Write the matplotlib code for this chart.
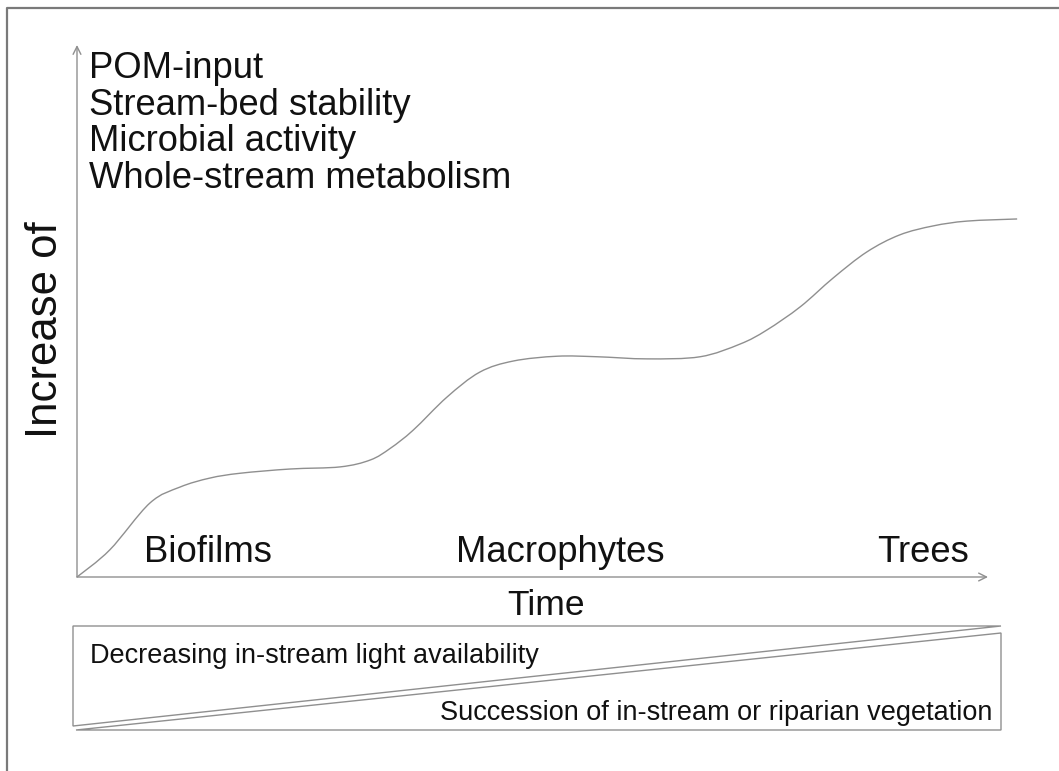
import matplotlib
matplotlib.use('Agg')
import matplotlib.pyplot as plt
from matplotlib.patches import Polygon, PathPatch
from matplotlib.path import Path
from matplotlib.lines import Line2D

# ---------------- data ----------------
time = [0, 3.6, 8.0, 11.3, 14.6, 17.9, 23.4, 28.9, 32.2, 34.4, 36.9, 40.6,
        44.2, 47.9, 52.7, 57.1, 62.6, 68.4, 72.8, 75.7, 79.4, 83.0, 86.7,
        90.3, 94.0, 97.7, 103.2]
increase = [0, 5.1, 13.9, 16.9, 18.6, 19.5, 20.3, 20.7, 22.0, 24.2, 27.6, 33.8,
            38.5, 40.6, 41.5, 41.4, 41.0, 41.4, 43.8, 46.4, 50.8, 56.2, 61.1,
            64.3, 66.0, 66.9, 67.3]
y_items = ["POM-input", "Stream-bed stability", "Microbial activity",
           "Whole-stream metabolism"]
stage_labels = ["Biofilms", "Macrophytes", "Trees"]
stage_time = [14.4, 53.1, 92.9]
y_title = "Increase of"
x_title = "Time"
wedge_top_text = "Decreasing in-stream light availability"
wedge_bottom_text = "Succession of in-stream or riparian vegetation"

# ---------------- figure ----------------
W, H = 1059, 771
plt.rcParams['font.family'] = ['Liberation Sans', 'DejaVu Sans']
fig = plt.figure(figsize=(W / 100, H / 100), dpi=100)
fig.patch.set_facecolor('white')

def fx(px):
    return px / W

def fy(py):
    return 1 - py / H

GRAY = '#8f8f8f'
TXT = '#111111'

# outer border (top and left)
fig.add_artist(Line2D([fx(7), fx(7), 1.0], [0.0, fy(8), fy(8)],
                      transform=fig.transFigure, color='#7a7a7a', lw=1.6))

# main axes
ax = fig.add_axes([fx(77), fy(577), (988 - 77) / W, (577 - 45) / H])
ax.set_xlim(0, 100)
ax.set_ylim(0, 100)
ax.axis('off')

arrow_kw = dict(arrowstyle='->', color=GRAY, lw=1.0, shrinkA=0, shrinkB=0,
                mutation_scale=14)
ax.annotate('', xy=(0, 100), xytext=(0, 0), arrowprops=arrow_kw,
            annotation_clip=False)
ax.annotate('', xy=(100, 0), xytext=(0, 0), arrowprops=arrow_kw,
            annotation_clip=False)

# smooth curve through the read points (Catmull-Rom rendered as Bezier path)
pts = list(zip(time, increase))
verts = [pts[0]]
codes = [Path.MOVETO]
n = len(pts)
for i in range(n - 1):
    p0 = pts[i - 1] if i > 0 else pts[i]
    p1 = pts[i]
    p2 = pts[i + 1]
    p3 = pts[i + 2] if i + 2 < n else pts[i + 1]
    c1 = (p1[0] + (p2[0] - p0[0]) / 6, p1[1] + (p2[1] - p0[1]) / 6)
    c2 = (p2[0] - (p3[0] - p1[0]) / 6, p2[1] - (p3[1] - p1[1]) / 6)
    verts += [c1, c2, p2]
    codes += [Path.CURVE4] * 3
curve = PathPatch(Path(verts, codes), fill=False, edgecolor=GRAY, lw=1.0,
                  transform=ax.transData, clip_on=False)
ax.add_patch(curve)

for lab, t in zip(stage_labels, stage_time):
    ax.text(t, 2.8, lab, ha='center', va='baseline', fontsize=26.3, color=TXT)

# list of quantities
for i, s in enumerate(y_items):
    fig.text(fx(89), fy(78 + 36.7 * i), s, ha='left', va='baseline',
             fontsize=26.2, color=TXT)

fig.text(fx(46), fy(330), y_title, rotation=90, ha='center', va='center',
         fontsize=31.5, color=TXT)
fig.text(fx(546), fy(615), x_title, ha='center', va='baseline',
         fontsize=25.5, color=TXT)

# bottom wedge diagram
upper = Polygon([[fx(73), fy(626)], [fx(1001), fy(626)], [fx(73), fy(726)]],
                closed=True, fill=False, edgecolor=GRAY, lw=1.0,
                transform=fig.transFigure)
lower = Polygon([[fx(76), fy(730)], [fx(1001), fy(730)], [fx(1001), fy(633)]],
                closed=True, fill=False, edgecolor=GRAY, lw=1.0,
                transform=fig.transFigure)
fig.add_artist(upper)
fig.add_artist(lower)

fig.text(fx(90), fy(663), wedge_top_text, ha='left', va='baseline',
         fontsize=19.5, color=TXT)
fig.text(fx(992), fy(720), wedge_bottom_text, ha='right', va='baseline',
         fontsize=19.5, color=TXT)

fig.savefig('out.png', dpi=100, facecolor='white')
